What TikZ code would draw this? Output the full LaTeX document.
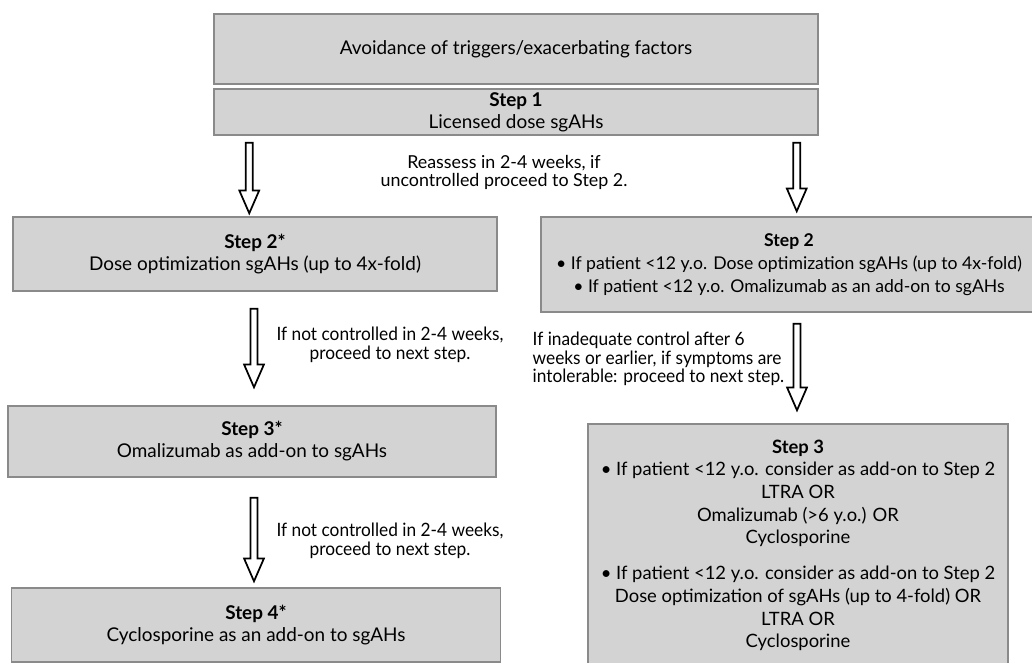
\documentclass[tikz,border=0pt]{standalone}
\usepackage{fontspec}
\setmainfont{Lato}
\newfontfamily\narrowfont[FakeStretch=0.94]{Lato}
\usetikzlibrary{calc}
\definecolor{boxgray}{RGB}{211,211,211}
\definecolor{edgegray}{RGB}{138,138,138}

% hollow block arrow from #1 down to #2
\newcommand{\blockarrow}[2]{%
\draw [fill=white, line width=1.3pt, line join=miter] let \p1=#1, \p2=#2 in
  (\x1-2.6pt,\y1) -- (\x1-2.6pt,\y2+17pt) -- (\x1-7.4pt,\y2+17pt) -- (\x1,\y2)
  -- (\x1+7.4pt,\y2+17pt) -- (\x1+2.6pt,\y2+17pt) -- (\x1+2.6pt,\y1) -- cycle;}

\begin{document}
\begin{tikzpicture}[x=0.75pt, y=-0.75pt,
  stepbox/.style={draw=edgegray, line width=1.1pt, fill=boxgray, align=center, inner sep=0pt,
    font=\fontsize{14.2}{16.5}\selectfont},
  note/.style={align=center, font=\narrowfont\fontsize{13.8}{14}\selectfont}]
\clip (0,0) rectangle (1032,662);

\node [stepbox, minimum width=453pt, minimum height=52.5pt] (avoid) at (516,49)
  {Avoidance of triggers/exacerbating factors};
\node [stepbox, minimum width=453pt, minimum height=34.5pt] (step1) at (516,112)
  {\textbf{Step 1}\\Licensed dose sgAHs};

% left column
\node [stepbox, minimum width=363pt, minimum height=55.5pt] (s2l) at (255,254)
  {\textbf{Step 2*}\\Dose optimization sgAHs (up to 4x-fold)};
\node [stepbox, minimum width=366pt, minimum height=53.25pt] (s3l) at (252,441.5)
  {\textbf{Step 3*}\\Omalizumab as add-on to sgAHs};
\node [stepbox, minimum width=367pt, minimum height=55.5pt] (s4l) at (256,625)
  {\textbf{Step 4*}\\Cyclosporine as an add-on to sgAHs};

% right column
\node [stepbox, minimum width=372pt, minimum height=71.25pt, font=\fontsize{13.2}{17}\selectfont] (s2r) at (789,264.5)
  {\textbf{Step 2}\\\textbullet{} If patient <12 y.o. Dose optimization sgAHs (up to 4x-fold)\\
   \textbullet{} If patient <12 y.o. Omalizumab as an add-on to sgAHs};
\node [stepbox, minimum width=315pt, minimum height=182.25pt, font=\fontsize{13.8}{17}\selectfont] (s3r) at (798,545.5)
  {\textbf{Step 3}\\\textbullet{} If patient <12 y.o. consider as add-on to Step 2\\LTRA OR\\
   Omalizumab (>6 y.o.) OR\\Cyclosporine\\[10pt]
   \textbullet{} If patient <12 y.o. consider as add-on to Step 2\\
   Dose optimization of sgAHs (up to 4-fold) OR\\LTRA OR\\Cyclosporine};

% texts beside the arrows
\node [align=center, font=\fontsize{13.4}{13.5}\selectfont] (reassess) at (504,172)
  {Reassess in 2-4 weeks, if\\uncontrolled proceed to Step 2.};
\node [note] (ctrl1) at (390,345) {If not controlled in 2-4 weeks,\\proceed to next step.};
\node [note] (ctrl2) at (390,541) {If not controlled in 2-4 weeks,\\proceed to next step.};
\node [note, align=left, anchor=west] (ctrl3) at (528,359)
  {If inadequate control after 6\\weeks or earlier, if symptoms are\\intolerable: proceed to next step.};

% arrows
\coordinate (a1) at ($(step1.south west)+(36,7)$);
\coordinate (a2) at ($(step1.south east)+(-22,7)$);
\coordinate (a3) at ($(s2l.south)+(-1,17)$);
\coordinate (a4) at ($(s2r.south)+(8,11)$);
\coordinate (a5) at ($(s3l.south)+(2,20)$);

\blockarrow{(a1)}{($(a1 |- s2l.north)+(0,-3)$)}
\blockarrow{(a2)}{($(a2 |- s2r.north)+(0,-5)$)}
\blockarrow{(a3)}{($(a3 |- s3l.north)+(0,-18)$)}
\blockarrow{(a4)}{($(a4 |- s3r.north)+(0,-13)$)}
\blockarrow{(a5)}{($(a5 |- s4l.north)+(0,-6)$)}

\end{tikzpicture}
\end{document}
